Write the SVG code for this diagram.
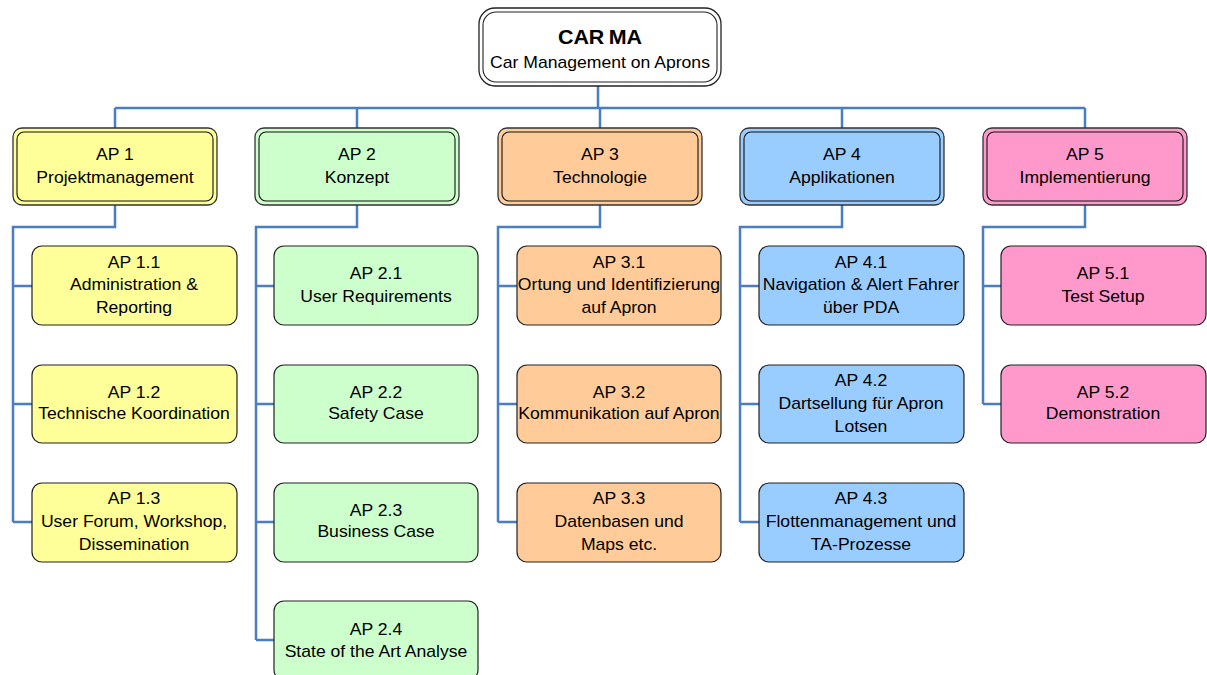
<svg xmlns="http://www.w3.org/2000/svg" width="1207" height="675" viewBox="0 0 1207 675">
<style>
  text { font-family: "Liberation Sans", Arial, sans-serif; font-size: 16px; fill: #000; text-anchor: middle; }
  .title { font-weight: bold; font-size: 19.5px; }
  .conn { fill: none; stroke: #4A7EC4; stroke-width: 2.5; stroke-linejoin: miter; }
  .outer { stroke: #333; stroke-width: 1.3; }
  .inner { fill: none; stroke: #111; stroke-width: 1.1; }
  .child { stroke: #222; stroke-width: 1.2; }
  .y { fill: #FFFF99; } .g { fill: #CCFFCC; } .o { fill: #FFCC99; } .b { fill: #99CCFF; } .p { fill: #FF99CC; }
</style>
<rect width="1207" height="675" fill="#fff"/>
<g id="connectors">
  <path class="conn" d="M598,86 V108 M115,108 H1085 M115,108 V128 M357,108 V128 M600,108 V128 M842,108 V128 M1085,108 V128"/>
  <path class="conn" d="M115,205 V227 H13 V522 M13,286 H32 M13,404 H32 M13,522 H32"/>
  <path class="conn" d="M357,205 V227 H256 V640 M256,286 H274 M256,404 H274 M256,522 H274 M256,640 H274"/>
  <path class="conn" d="M600,205 V227 H498 V522 M498,286 H517 M498,404 H517 M498,522 H517"/>
  <path class="conn" d="M842,205 V227 H740 V522 M740,286 H759 M740,404 H759 M740,522 H759"/>
  <path class="conn" d="M1085,205 V227 H983 V404 M983,286 H1001 M983,404 H1001"/>
</g>
<g id="carma">
  <rect x="479" y="8" width="242" height="78" rx="16" fill="#fff" stroke="#222" stroke-width="1.3"/>
  <rect x="483" y="12" width="234" height="70" rx="13" fill="none" stroke="#222" stroke-width="1.1"/>
  <text class="title" transform="translate(600,44) scale(1.1,1)">CAR<tspan dx="4">MA</tspan></text>
  <text transform="translate(600,68) scale(1.1,1)">Car Management on Aprons</text>
</g>
<g id="ap1">
  <rect class="outer y" x="13" y="128" width="204" height="77" rx="9"/>
  <rect class="inner" x="17" y="132" width="196" height="69" rx="7"/>
  <text transform="translate(115,160) scale(1.1,1)">AP 1<tspan x="0" dy="23">Projektmanagement</tspan></text>
</g>
<g id="ap2">
  <rect class="outer g" x="255" y="128" width="204" height="77" rx="9"/>
  <rect class="inner" x="259" y="132" width="196" height="69" rx="7"/>
  <text transform="translate(357,160) scale(1.1,1)">AP 2<tspan x="0" dy="23">Konzept</tspan></text>
</g>
<g id="ap3">
  <rect class="outer o" x="498" y="128" width="204" height="77" rx="9"/>
  <rect class="inner" x="502" y="132" width="196" height="69" rx="7"/>
  <text transform="translate(600,160) scale(1.1,1)">AP 3<tspan x="0" dy="23">Technologie</tspan></text>
</g>
<g id="ap4">
  <rect class="outer b" x="740" y="128" width="204" height="77" rx="9"/>
  <rect class="inner" x="744" y="132" width="196" height="69" rx="7"/>
  <text transform="translate(842,160) scale(1.1,1)">AP 4<tspan x="0" dy="23">Applikationen</tspan></text>
</g>
<g id="ap5">
  <rect class="outer p" x="983" y="128" width="204" height="77" rx="9"/>
  <rect class="inner" x="987" y="132" width="196" height="69" rx="7"/>
  <text transform="translate(1085,160) scale(1.1,1)">AP 5<tspan x="0" dy="23">Implementierung</tspan></text>
</g>
<g id="ap1-1">
  <rect class="child y" x="32" y="246" width="205" height="79" rx="10"/>
  <text transform="translate(134,268) scale(1.1,1)">AP 1.1<tspan x="0" dy="22.5">Administration &amp;</tspan><tspan x="0" dy="22.5">Reporting</tspan></text>
</g>
<g id="ap1-2">
  <rect class="child y" x="32" y="365" width="205" height="78" rx="10"/>
  <text transform="translate(134,398) scale(1.1,1)">AP 1.2<tspan x="0" dy="21">Technische Koordination</tspan></text>
</g>
<g id="ap1-3">
  <rect class="child y" x="32" y="483" width="205" height="79" rx="10"/>
  <text transform="translate(134,504) scale(1.1,1)">AP 1.3<tspan x="0" dy="23">User Forum, Workshop,</tspan><tspan x="0" dy="23">Dissemination</tspan></text>
</g>
<g id="ap2-1">
  <rect class="child g" x="274" y="246" width="204" height="79" rx="10"/>
  <text transform="translate(376,279) scale(1.1,1)">AP 2.1<tspan x="0" dy="23">User Requirements</tspan></text>
</g>
<g id="ap2-2">
  <rect class="child g" x="274" y="365" width="204" height="78" rx="10"/>
  <text transform="translate(376,398) scale(1.1,1)">AP 2.2<tspan x="0" dy="21">Safety Case</tspan></text>
</g>
<g id="ap2-3">
  <rect class="child g" x="274" y="483" width="204" height="79" rx="10"/>
  <text transform="translate(376,516) scale(1.1,1)">AP 2.3<tspan x="0" dy="21">Business Case</tspan></text>
</g>
<g id="ap2-4">
  <rect class="child g" x="274" y="601" width="204" height="79" rx="10"/>
  <text transform="translate(376,635) scale(1.1,1)">AP 2.4<tspan x="0" dy="22">State of the Art Analyse</tspan></text>
</g>
<g id="ap3-1">
  <rect class="child o" x="517" y="246" width="204" height="79" rx="10"/>
  <text transform="translate(619,268) scale(1.1,1)">AP 3.1<tspan x="0" dy="22.5">Ortung und Identifizierung</tspan><tspan x="0" dy="22.5">auf Apron</tspan></text>
</g>
<g id="ap3-2">
  <rect class="child o" x="517" y="365" width="204" height="78" rx="10"/>
  <text transform="translate(619,398) scale(1.1,1)">AP 3.2<tspan x="0" dy="21">Kommunikation auf Apron</tspan></text>
</g>
<g id="ap3-3">
  <rect class="child o" x="517" y="483" width="204" height="79" rx="10"/>
  <text transform="translate(619,504) scale(1.1,1)">AP 3.3<tspan x="0" dy="23">Datenbasen und</tspan><tspan x="0" dy="23">Maps etc.</tspan></text>
</g>
<g id="ap4-1">
  <rect class="child b" x="759" y="246" width="205" height="79" rx="10"/>
  <text transform="translate(861,268) scale(1.1,1)">AP 4.1<tspan x="0" dy="22.5">Navigation &amp; Alert Fahrer</tspan><tspan x="0" dy="22.5">über PDA</tspan></text>
</g>
<g id="ap4-2">
  <rect class="child b" x="759" y="365" width="205" height="78" rx="10"/>
  <text transform="translate(861,386) scale(1.1,1)">AP 4.2<tspan x="0" dy="23">Dartsellung für Apron</tspan><tspan x="0" dy="23">Lotsen</tspan></text>
</g>
<g id="ap4-3">
  <rect class="child b" x="759" y="483" width="205" height="79" rx="10"/>
  <text transform="translate(861,504) scale(1.1,1)">AP 4.3<tspan x="0" dy="23">Flottenmanagement und</tspan><tspan x="0" dy="23">TA-Prozesse</tspan></text>
</g>
<g id="ap5-1">
  <rect class="child p" x="1001" y="246" width="205" height="79" rx="10"/>
  <text transform="translate(1103,279) scale(1.1,1)">AP 5.1<tspan x="0" dy="23">Test Setup</tspan></text>
</g>
<g id="ap5-2">
  <rect class="child p" x="1001" y="365" width="205" height="78" rx="10"/>
  <text transform="translate(1103,398) scale(1.1,1)">AP 5.2<tspan x="0" dy="21">Demonstration</tspan></text>
</g>
</svg>
